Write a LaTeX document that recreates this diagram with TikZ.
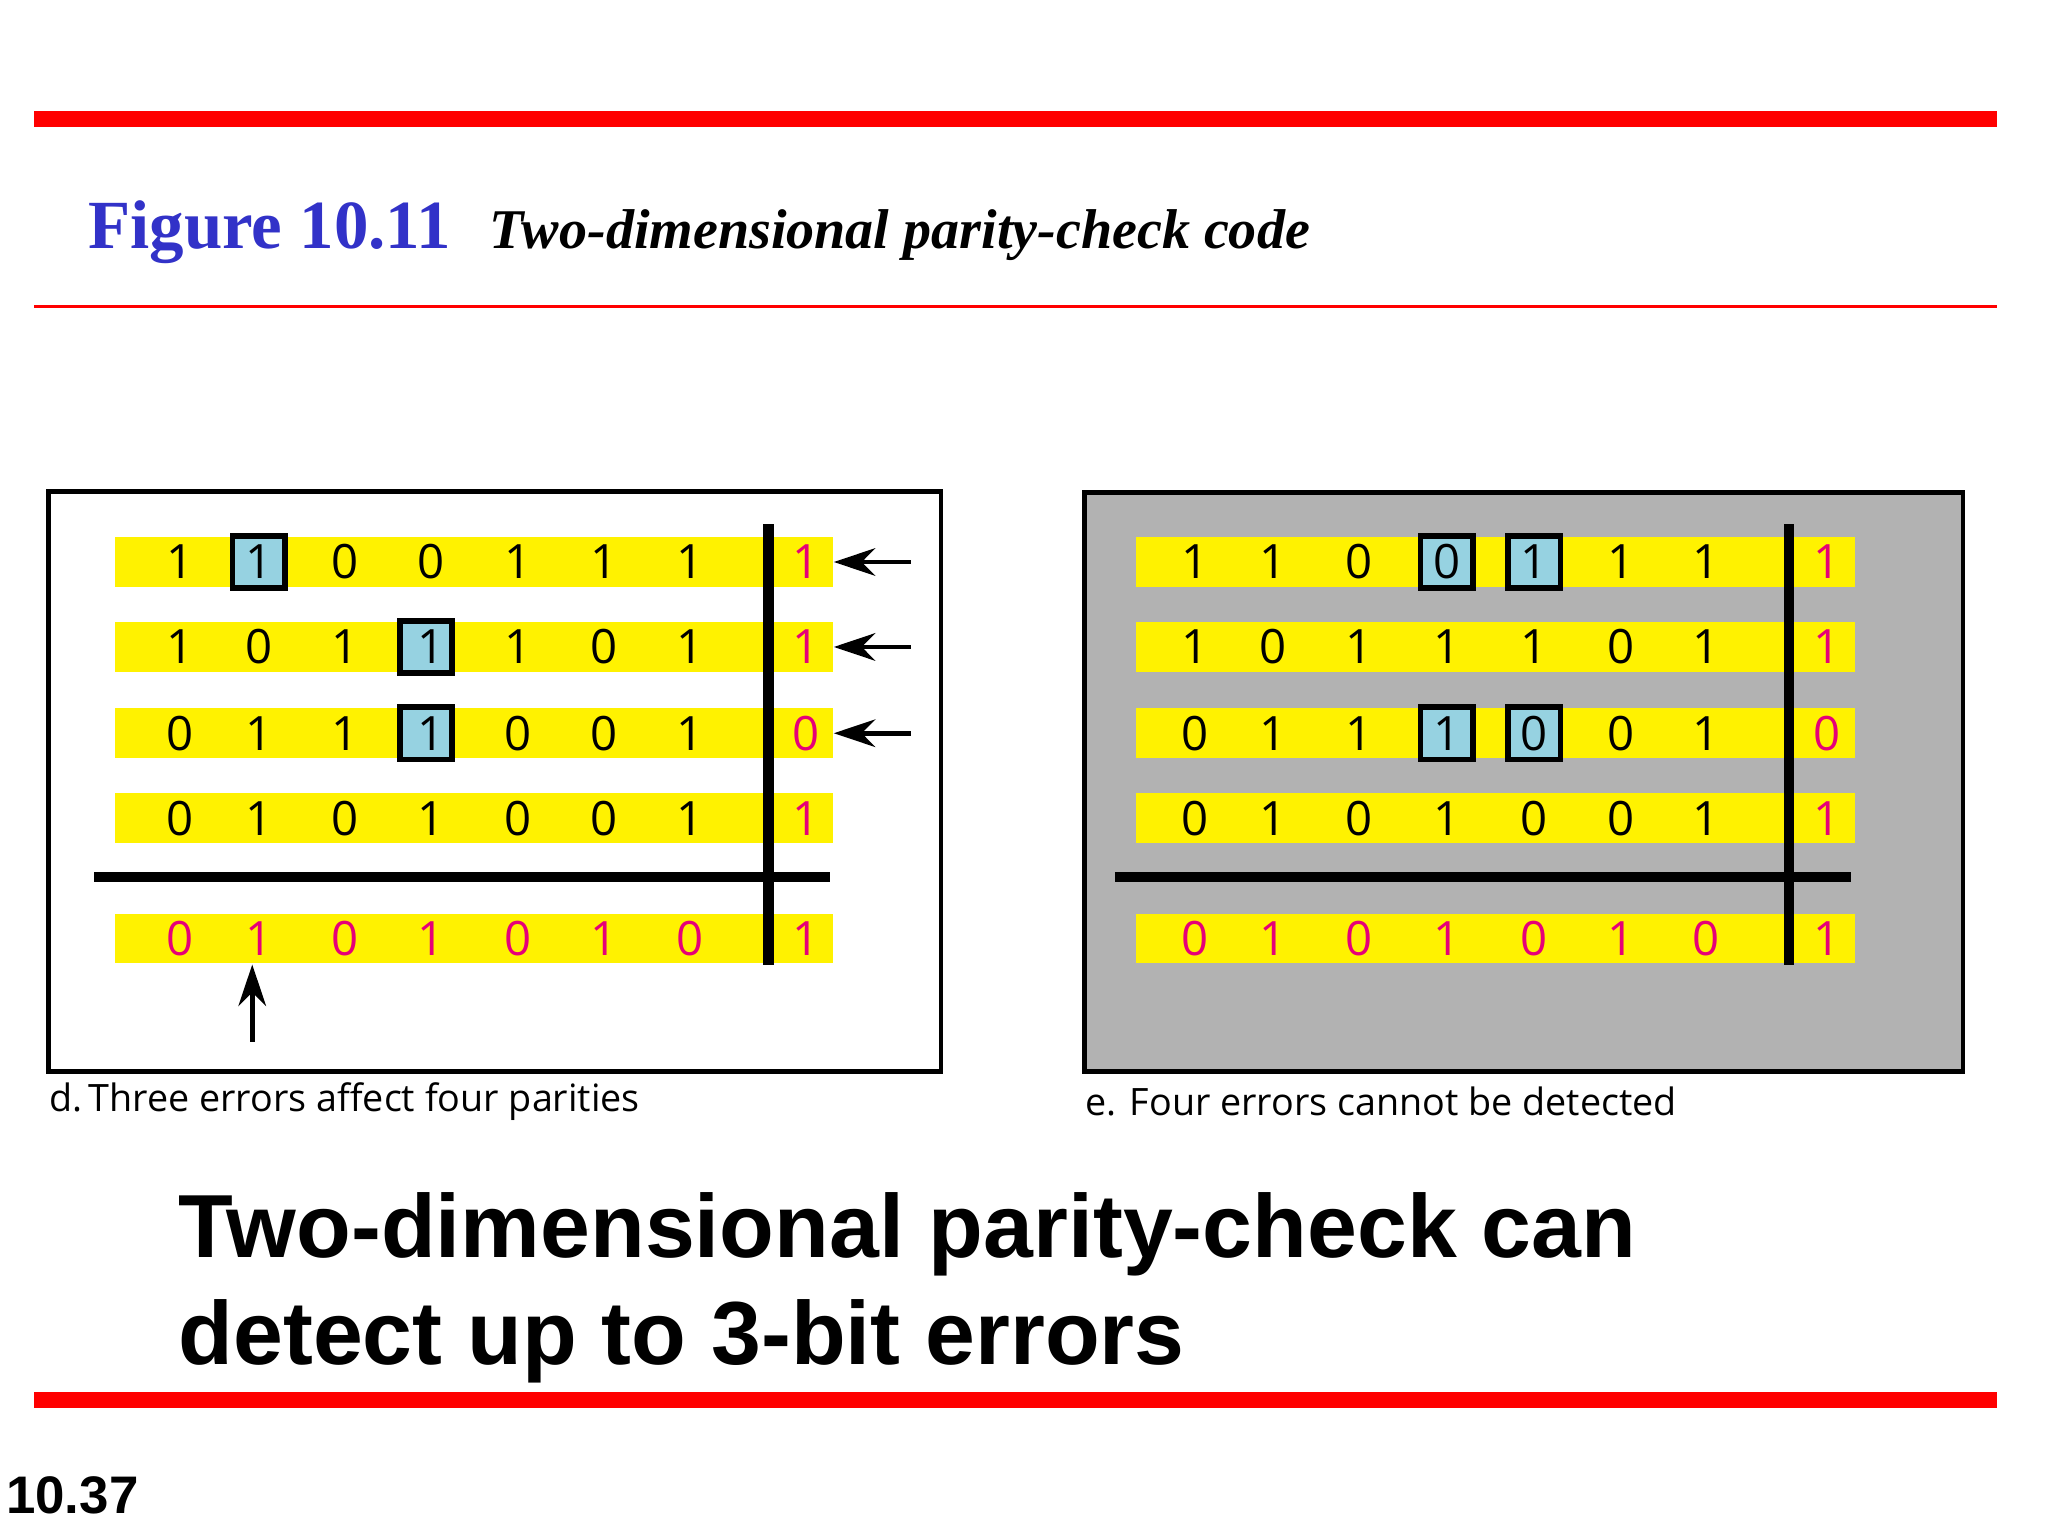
\documentclass[tikz,border=0pt]{standalone}
\usepackage{fontspec}
\setmainfont{Liberation Serif}
\setsansfont{Liberation Sans}
\newfontfamily\digf{Open Sans}
\usetikzlibrary{arrows.meta}
\definecolor{bitmag}{RGB}{230,0,120}
\definecolor{lblue}{RGB}{150,210,225}
\definecolor{panelgray}{RGB}{178,178,178}
\definecolor{figblue}{RGB}{50,50,200}
\newlength\pxu \setlength\pxu{0.01cm}
\tikzset{
 dig/.style={font=\digf\fontsize{10.3}{12}\selectfont,inner sep=0pt},
 pdig/.style={dig,text=bitmag},
 errbox/.style={draw=black,line width=1.2pt,fill=lblue,minimum width=40\pxu,minimum height=40\pxu,inner sep=0pt},
 errarrow/.style={-{Stealth[length=9pt,width=6pt]},line width=1pt},
 capt/.style={font=\digf\fontsize{8.2}{10}\selectfont,anchor=west,inner sep=0pt}
}
\begin{document}
\begin{tikzpicture}[x=0.01cm,y=-0.01cm]
\useasboundingbox (0,0) rectangle (1567,1175);
\fill[red] (26,85) rectangle (1528,97);
\fill[red] (26,233) rectangle (1528,236);
\fill[red] (26,1065) rectangle (1528,1077);
\node[anchor=base west,inner sep=0pt,text=figblue,font=\bfseries\fontsize{15}{17}\selectfont] (ft) at (67,190) {Figure 10.11};
\node[anchor=base west,inner sep=0pt,font=\bfseries\itshape\fontsize{12.2}{14}\selectfont] (st) at (374,190) {Two-dimensional parity-check code};
% panels
\draw[line width=1pt,fill=white] (37,376) rectangle (720,820);
\draw[line width=1pt,fill=panelgray] (830,377) rectangle (1502,820);
\foreach \lo/\hi in {88/637,869/1419}{
  \foreach \y in {430,495,561,626,718}{\fill[yellow] (\lo,\y-19) rectangle (\hi,\y+19);}
}
% error boxes
\foreach \x/\y in {198/430,326/495,326/561,1107/430,1174/430,1107/561,1174/561}{
  \node[errbox] at (\x,\y) {};
}
% digits
\foreach \xs/\ps in {{138,198,264,330,396,462,528}/617,{914,974,1040,1107,1174,1240,1305}/1398}{
 \foreach \row/\y/\pv in {{1,1,0,0,1,1,1}/430/1,{1,0,1,1,1,0,1}/495/1,{0,1,1,1,0,0,1}/561/0,{0,1,0,1,0,0,1}/626/1}{
   \foreach \b [count=\i] in \row {
     \pgfmathsetmacro\xx{{\xs}[\i-1]}
     \node[dig] at (\xx,\y) {\b};
   }
   \node[pdig] at (\ps,\y) {\pv};
 }
 \foreach \b [count=\i] in {0,1,0,1,0,1,0}{
   \pgfmathsetmacro\xx{{\xs}[\i-1]}
   \node[pdig] at (\xx,718) {\b};
 }
 \node[pdig] at (\ps,718) {1};
}
% rules
\draw[line width=2.2pt] (588,401) -- (588,738);
\draw[line width=2.2pt] (72,671) -- (635,671);
\draw[line width=2.2pt] (1369,401) -- (1369,738);
\draw[line width=2.2pt] (853,671) -- (1416,671);
% arrows
\foreach \y [count=\k] in {430,495,561}{
 \coordinate (as\k) at (697,\y); \coordinate (ae\k) at (638,\y);
 \draw[errarrow] (as\k) -- (ae\k);
}
\coordinate (bs) at (193,797); \coordinate (be) at (193,738);
\draw[errarrow] (bs) -- (be);
\node[capt] (c1) at (37,843) {d.\,Three errors affect four parities};
\node[capt] (c2) at (830,843) {e. Four errors cannot be detected};
\node[anchor=north west,inner sep=0pt,align=left,font=\sffamily\bfseries\fontsize{19.5}{23.3}\selectfont] (bt) at (136,912) {Two-dimensional parity-check can\\detect up to 3-bit errors};
\node[anchor=base west,inner sep=0pt,font=\sffamily\bfseries\fontsize{11.5}{13}\selectfont] (pg) at (4,1158) {10.37};
\end{tikzpicture}
\end{document}
